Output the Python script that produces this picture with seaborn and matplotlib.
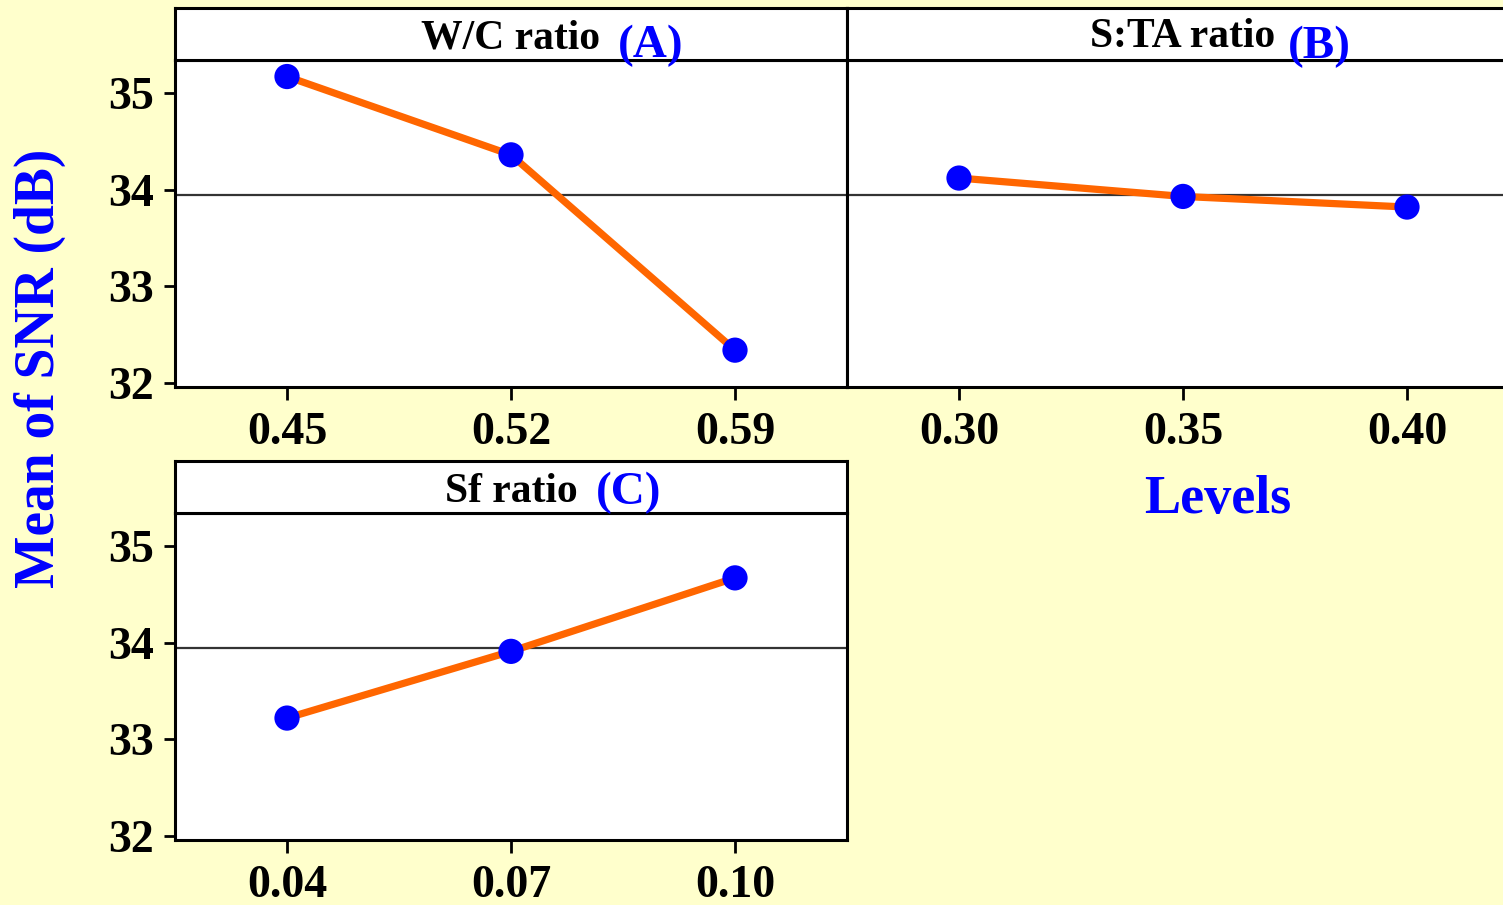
import numpy as np
import pandas as pd
import matplotlib
matplotlib.use("Agg")
import matplotlib.pyplot as plt
import seaborn as sns

# Main effects of each mix factor on the signal-to-noise ratio
factors = ["W/C ratio", "S:TA ratio", "Sf ratio"]
tags = ["(A)", "(B)", "(C)"]
wc_levels = ["0.45", "0.52", "0.59"]
sta_levels = ["0.30", "0.35", "0.40"]
sf_levels = ["0.04", "0.07", "0.10"]
wc_snr = [35.17, 34.36, 32.34]
sta_snr = [34.12, 33.93, 33.82]
sf_snr = [33.22, 33.91, 34.67]
y_ticks = [32, 33, 34, 35]

level_sets = [wc_levels, sta_levels, sf_levels]
snr_sets = [wc_snr, sta_snr, sf_snr]

rows = []
for fac, levs, vals in zip(factors, level_sets, snr_sets):
    for i, (lv, v) in enumerate(zip(levs, vals)):
        rows.append({"factor": fac, "level": lv, "pos": i, "snr": v})
df = pd.DataFrame(rows)
grand_mean = df["snr"].mean()

sns.set_theme(style="white")
plt.rcParams["font.family"] = ["Liberation Serif", "DejaVu Serif"]
plt.rcParams["font.weight"] = "bold"

BG = "#FFFFCC"
LINE = "#FF6600"
DOT = "#0000FF"
W, H = 1503, 905

fig = plt.figure(figsize=(W / 100, H / 100), dpi=100, facecolor=BG)


def frac_box(x0, x1, ytop, ybot):
    return [x0 / W, 1 - ybot / H, (x1 - x0) / W, (ybot - ytop) / H]


# (plot box, header box, show y ticks, tag position, title baseline)
panels = [
    (frac_box(175, 847, 60, 387), frac_box(175, 847, 8, 60), True, (0.659, 0.064), 0.23),
    (frac_box(847, 1519, 60, 387), frac_box(847, 1519, 8, 60), False, (0.656, 0.04), 0.25),
    (frac_box(175, 847, 513, 840), frac_box(175, 847, 461, 513), True, (0.626, 0.17), 0.21),
]

for k, (fac, levs, (box, hbox, show_y, tagpos, base)) in enumerate(
        zip(factors, level_sets, panels)):
    ax = fig.add_axes(box)
    hax = fig.add_axes(hbox)
    sub = df[df["factor"] == fac]

    ax.set_facecolor("white")
    ax.axhline(grand_mean, color="#333333", lw=1.6, zorder=1)
    sns.lineplot(data=sub, x="pos", y="snr", color=LINE, lw=5.2, ax=ax,
                 zorder=2, legend=False)
    sns.scatterplot(data=sub, x="pos", y="snr", color=DOT, s=330,
                    edgecolor="none", ax=ax, zorder=3, legend=False)

    ax.set_xlim(-0.5, 2.5)
    ax.set_ylim(31.959, 35.341)
    ax.set_xticks(range(len(levs)))
    ax.set_xticklabels(levs)
    ax.set_xlabel("")
    ax.set_ylabel("")
    ax.tick_params(axis="x", bottom=True, length=9, width=2, pad=9,
                   labelsize=33, color="black", labelcolor="black")
    ax.set_yticks(y_ticks)
    if show_y:
        ax.tick_params(axis="y", left=True, length=8, width=2, pad=7,
                       labelsize=33, color="black", labelcolor="black")
    else:
        ax.tick_params(axis="y", left=False, labelleft=False)
    for lab in ax.get_xticklabels() + ax.get_yticklabels():
        lab.set_fontweight("bold")
    for sp in ax.spines.values():
        sp.set_visible(True)
        sp.set_color("black")
        sp.set_linewidth(2.2)

    hax.set_facecolor("white")
    hax.set_xticks([])
    hax.set_yticks([])
    hax.set_xlim(0, 1)
    hax.set_ylim(0, 1)
    for sp in hax.spines.values():
        sp.set_color("black")
        sp.set_linewidth(2.2)
    hax.text(0.5, base, fac, ha="center", va="baseline", fontsize=30,
             fontweight="bold", color="black")
    hax.text(tagpos[0], tagpos[1], tags[k], ha="left", va="baseline",
             fontsize=34, fontweight="bold", color=DOT, clip_on=False,
             zorder=5)

fig.text(40 / W, 1 - 368 / H, "Mean of SNR (dB)", rotation=90, ha="center",
         va="center", fontsize=40, fontweight="bold", color=DOT)
fig.text(1218 / W, 1 - 513 / H, "Levels", ha="center", va="baseline",
         fontsize=39, fontweight="bold", color=DOT)

fig.savefig("out.png", dpi=100, facecolor=BG)
